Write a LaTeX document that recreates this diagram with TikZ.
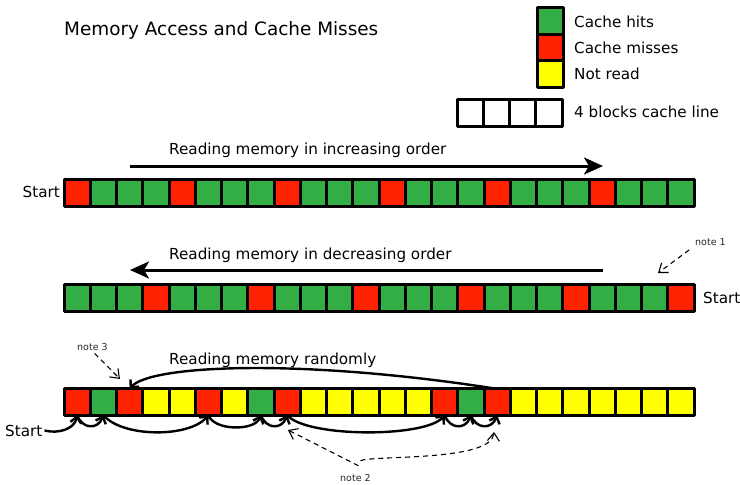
\documentclass[tikz,border=0pt]{standalone}
\usepackage{fontspec}
\setmainfont{DejaVu Sans}
\usetikzlibrary{arrows.meta}
\definecolor{hit}{RGB}{51,174,68}
\definecolor{miss}{RGB}{255,34,0}
\definecolor{unread}{RGB}{255,255,0}
\tikzset{
  blk/.style={draw,line width=3pt,minimum size=26.25pt,inner sep=0pt,outer sep=0pt},
  lbl/.style={anchor=base west,inner sep=0pt,font=\fontsize{15.2}{18}\selectfont},
  notelbl/.style={anchor=base west,inner sep=1pt,font=\fontsize{9.5}{11}\selectfont,text=black!85},
  mainarrow/.style={line width=3pt,-{Stealth[length=19pt,width=17pt,inset=5pt]}},
  hop/.style={line width=2.4pt,-{Straight Barb[length=6pt,width=11pt]}},
  notearrow/.style={line width=1.1pt,dash pattern=on 5pt off 4pt,-{Straight Barb[length=8pt,width=12pt]}},
}
\begin{document}
\begin{tikzpicture}[x=1pt,y=-1pt,line join=round]
\useasboundingbox (0,0) rectangle (740,485);
\def\w{26.25}
\def\xs{64}
% title and legend
\node[anchor=base west,inner sep=0pt,font=\fontsize{18.4}{22}\selectfont] (title) at (64,35) {Memory Access and Cache Misses};
\node[blk,fill=hit] (key-hit) at (550.5,21) {};
\node[blk,fill=miss] (key-miss) at (550.5,47.5) {};
\node[blk,fill=unread] (key-unread) at (550.5,74) {};
\node[lbl] (key-hit-t) at (574,27) {Cache hits};
\node[lbl] (key-miss-t) at (574,53) {Cache misses};
\node[lbl] (key-unread-t) at (574,79) {Not read};
\foreach \i in {0,...,3}
  \node[blk] (line-\i) at ({457+\w*(\i+0.5)},113) {};
\node[lbl] (line-t) at (574,117) {4 blocks cache line};
% increasing order
\foreach \c [count=\i from 0] in {miss,hit,hit,hit,miss,hit,hit,hit,miss,hit,hit,hit,
    miss,hit,hit,hit,miss,hit,hit,hit,miss,hit,hit,hit}
  \node[blk,fill=\c] (inc-\i) at ({\xs+\w*(\i+0.5)},193) {};
\node[lbl,anchor=base east] (inc-start) at (60,197) {Start};
\node[lbl] (inc-t) at (169,154) {Reading memory in increasing order};
\coordinate (inc-a) at (130,166);
\coordinate (inc-b) at (603,166);
\draw[mainarrow] (inc-a) -- (inc-b);
% decreasing order
\foreach \c [count=\i from 0] in {hit,hit,hit,miss,hit,hit,hit,miss,hit,hit,hit,miss,
    hit,hit,hit,miss,hit,hit,hit,miss,hit,hit,hit,miss}
  \node[blk,fill=\c] (dec-\i) at ({\xs+\w*(\i+0.5)},298) {};
\node[lbl] (dec-start) at (703,303) {Start};
\node[lbl] (dec-t) at (169,259) {Reading memory in decreasing order};
\coordinate (dec-a) at (603,270);
\coordinate (dec-b) at (130,270);
\draw[mainarrow] (dec-a) -- (dec-b);
% random order
\foreach \c [count=\i from 0] in {miss,hit,miss,unread,unread,miss,unread,hit,miss,unread,unread,unread,
    unread,unread,miss,hit,miss,unread,unread,unread,unread,unread,unread,unread}
  \node[blk,fill=\c] (rnd-\i) at ({\xs+\w*(\i+0.5)},402) {};
\node[lbl] (rnd-start) at (5,436) {Start};
\node[lbl] (rnd-t) at (169,364) {Reading memory randomly};
\draw[hop] ([xshift=2pt]rnd-start.east) to[out=-15,in=-100] (rnd-0.south);
\draw[hop] (rnd-0.south) to[out=-70,in=-110,looseness=1.5] (rnd-1.south);
\draw[hop] (rnd-1.south) to[out=-50,in=-130,looseness=0.72] (rnd-5.south);
\draw[hop] (rnd-5.south) to[out=-70,in=-110,looseness=0.83] (rnd-7.south);
\draw[hop] (rnd-7.south) to[out=-70,in=-110,looseness=1.5] (rnd-8.south);
\draw[hop] (rnd-8.south) to[out=-50,in=-130,looseness=0.48] (rnd-14.south);
\draw[hop] (rnd-14.south) to[out=-70,in=-110,looseness=1.5] (rnd-15.south);
\draw[hop] (rnd-15.south) to[out=-70,in=-110,looseness=1.5] (rnd-16.south);
\draw[hop] (rnd-16.north) .. controls (300,358) and (150,365) .. (rnd-2.north);
% notes
\node[notelbl] (note1) at (694,245) {note 1};
\coordinate (n1tip) at (658,273);
\draw[notearrow,shorten <=6pt] (note1.south west) -- (n1tip);
\node[notelbl] (note3) at (76,350) {note 3};
\coordinate (n3tip) at (120,379);
\draw[notearrow,shorten <=3pt] (note3.south) -- (n3tip);
\node[notelbl] (note2) at (339,481) {note 2};
\coordinate (n2tipa) at (288,430);
\coordinate (n2tipb) at (494,432);
\draw[notearrow] ([xshift=3pt,yshift=7pt]note2.north) -- (n2tipa);
\draw[notearrow] ([xshift=5pt,yshift=12pt]note2.north) .. controls (372,455) and (492,462) .. (n2tipb);
\end{tikzpicture}
\end{document}
